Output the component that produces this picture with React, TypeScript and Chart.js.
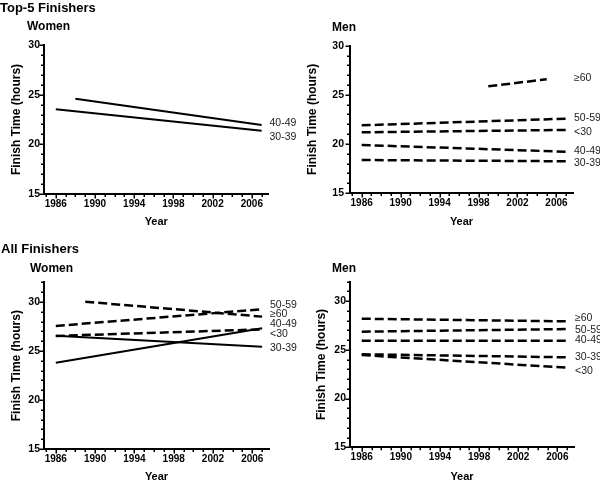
import React, { useEffect, useRef } from 'react';
import { Chart, registerables } from 'chart.js';

Chart.register(...registerables);

const FONT = '"Liberation Sans", Arial, Helvetica, sans-serif';

// Axis tick labels
const YEAR_LABELS = [1986, 1990, 1994, 1998, 2002, 2006];
const YEAR_FIRST_TICK = 1985;
const YEAR_LAST_TICK = 2007;
const TIME_LABELS = [15, 20, 25, 30];

// Top-5 finishers, women
const top5WomenGroups = ['30-39', '40-49'];
const top5WomenStartYear = [1986, 1988];
const top5WomenEndYear = [2007, 2007];
const top5WomenStartTime = [23.52, 24.59];
const top5WomenEndTime = [21.37, 21.94];
const top5WomenSolid = [true, true];
const top5WomenLabelTime = [20.77, 22.11];

// Top-5 finishers, men
const top5MenGroups = ['≥60', '50-59', '<30', '40-49', '30-39'];
const top5MenStartYear = [1999, 1986, 1986, 1986, 1986];
const top5MenEndYear = [2005, 2007, 2007, 2007, 2007];
const top5MenStartTime = [25.87, 21.89, 21.18, 19.89, 18.36];
const top5MenEndTime = [26.58, 22.57, 21.42, 19.2, 18.23];
const top5MenSolid = [false, false, false, false, false];
const top5MenLabelTime = [26.74, 22.67, 21.21, 19.31, 18.02];

// All finishers, women
const allWomenGroups = ['50-59', '≥60', '40-49', '<30', '30-39'];
const allWomenStartYear = [1986, 1989, 1986, 1986, 1986];
const allWomenEndYear = [2007, 2007, 2007, 2007, 2007];
const allWomenStartTime = [27.55, 30.02, 23.8, 26.53, 26.56];
const allWomenEndTime = [29.25, 28.5, 27.31, 27.2, 25.44];
const allWomenSolid = [false, false, true, false, true];
const allWomenLabelTime = [29.69, 28.77, 27.72, 26.7, 25.27];

// All finishers, men
const allMenGroups = ['≥60', '50-59', '40-49', '30-39', '<30'];
const allMenStartYear = [1986, 1986, 1986, 1986, 1986];
const allMenEndYear = [2007, 2007, 2007, 2007, 2007];
const allMenStartTime = [28.2, 26.87, 25.94, 24.55, 24.47];
const allMenEndTime = [27.93, 27.14, 25.94, 24.24, 23.17];
const allMenSolid = [false, false, false, false, false];
const allMenLabelTime = [28.24, 27.04, 26.01, 24.3, 22.86];

type Geom = {
  x: number; y: number; w: number; h: number;
  left: number; right: number; top: number; bottom: number;
  yTitlePad: number; xTitlePad: number; yTickPad: number;
};

type PanelProps = {
  geom: Geom;
  yMax: number;
  groups: string[];
  startYear: number[];
  endYear: number[];
  startTime: number[];
  endTime: number[];
  solid: boolean[];
  labelTime: number[];
};

function Panel(props: PanelProps) {
  const ref = useRef<HTMLCanvasElement>(null);
  useEffect(() => {
    const { geom, yMax, groups, startYear, endYear, startTime, endTime, solid, labelTime } = props;
    const xTicks: number[] = [];
    for (let v = YEAR_FIRST_TICK; v <= YEAR_LAST_TICK; v++) xTicks.push(v);
    const yTicks: number[] = [];
    for (let v = 15; v <= yMax; v++) yTicks.push(v);

    const decor = {
      id: 'decor',
      afterDraw(chart: any) {
        const ctx = chart.ctx as CanvasRenderingContext2D;
        const xs = chart.scales.x;
        const ys = chart.scales.y;
        const area = chart.chartArea;
        ctx.save();
        ctx.strokeStyle = '#000';
        ctx.lineWidth = 1.5;
        xs.ticks.forEach((t: any) => {
          const px = Math.round(xs.getPixelForValue(t.value)) + 0.25;
          const len = YEAR_LABELS.includes(t.value) ? 4.5 : 3;
          ctx.beginPath();
          ctx.moveTo(px, area.bottom);
          ctx.lineTo(px, area.bottom + len);
          ctx.stroke();
        });
        ys.ticks.forEach((t: any) => {
          const py = Math.round(ys.getPixelForValue(t.value)) + 0.25;
          const len = TIME_LABELS.includes(t.value) ? 4.5 : 3;
          ctx.beginPath();
          ctx.moveTo(area.left, py);
          ctx.lineTo(area.left - len, py);
          ctx.stroke();
        });
        ctx.fillStyle = '#222';
        ctx.font = `10.5px ${FONT}`;
        ctx.textAlign = 'left';
        ctx.textBaseline = 'middle';
        groups.forEach((g, i) => {
          ctx.fillText(g, area.right + 1, ys.getPixelForValue(labelTime[i]));
        });
        ctx.restore();
      },
    };

    const chart = new Chart(ref.current as HTMLCanvasElement, {
      type: 'line',
      data: {
        datasets: groups.map((g, i) => ({
          label: g,
          data: [
            { x: startYear[i], y: startTime[i] },
            { x: endYear[i], y: endTime[i] },
          ],
          borderColor: '#000',
          borderWidth: solid[i] ? 2 : 2.5,
          borderDash: solid[i] ? [] : [9, 4],
          borderCapStyle: 'butt',
          pointRadius: 0,
          fill: false,
          tension: 0,
        })),
      },
      options: {
        responsive: false,
        animation: false,
        layout: { padding: { left: 0, top: geom.top, right: geom.w - geom.right, bottom: 0 } },
        plugins: {
          legend: { display: false },
          tooltip: { enabled: false },
        },
        scales: {
          x: {
            type: 'linear',
            min: 1984.8,
            max: 2007.7,
            afterBuildTicks: (s: any) => {
              s.ticks = xTicks.map((v) => ({ value: v }));
            },
            afterFit: (s: any) => {
              s.height = geom.h - geom.bottom;
            },
            ticks: {
              autoSkip: false,
              maxRotation: 0,
              minRotation: 0,
              padding: 0,
              color: '#000',
              font: { family: FONT, size: 10, weight: 'bold' },
              callback: (v: any) => (YEAR_LABELS.includes(Number(v)) ? String(v) : ''),
            },
            grid: {
              display: true,
              drawOnChartArea: false,
              drawTicks: true,
              tickLength: 4,
              tickColor: 'rgba(0,0,0,0)',
            },
            border: { display: true, color: '#000', width: 2 },
            title: {
              display: true,
              text: 'Year',
              color: '#000',
              font: { family: FONT, size: 11, weight: 'bold' },
              padding: { top: 0, bottom: geom.xTitlePad },
            },
          },
          y: {
            type: 'linear',
            min: 15,
            max: yMax,
            afterBuildTicks: (s: any) => {
              s.ticks = yTicks.map((v) => ({ value: v }));
            },
            afterFit: (s: any) => {
              s.width = geom.left;
            },
            ticks: {
              autoSkip: false,
              padding: geom.yTickPad,
              color: '#000',
              font: { family: FONT, size: 10.5, weight: 'bold' },
              callback: (v: any) => (TIME_LABELS.includes(Number(v)) ? String(v) : ''),
            },
            grid: {
              display: true,
              drawOnChartArea: false,
              drawTicks: true,
              tickLength: 4,
              tickColor: 'rgba(0,0,0,0)',
            },
            border: { display: true, color: '#000', width: 2 },
            title: {
              display: true,
              text: 'Finish Time (hours)',
              color: '#000',
              font: { family: FONT, size: 12, weight: 'bold' },
              padding: { top: geom.yTitlePad, bottom: 0 },
            },
          },
        },
      } as any,
      plugins: [decor as any],
    });
    return () => chart.destroy();
  }, []);
  const g = props.geom;
  return (
    <canvas
      ref={ref}
      width={g.w}
      height={g.h}
      style={{ position: 'absolute', left: g.x, top: g.y, width: g.w, height: g.h }}
    />
  );
}

const heading: React.CSSProperties = {
  position: 'absolute',
  fontFamily: FONT,
  fontWeight: 'bold',
  color: '#000',
  whiteSpace: 'nowrap',
};

export default function App() {
  const g1: Geom = { x: 0, y: 0, w: 300, h: 240, left: 44, right: 268.5, top: 45, bottom: 194, yTitlePad: 9.5, xTitlePad: 11.7, yTickPad: 0 };
  const g2: Geom = { x: 300, y: 0, w: 300, h: 240, left: 50, right: 273, top: 45.7, bottom: 193, yTitlePad: 5.3, xTitlePad: 11.4, yTickPad: 2 };
  const g3: Geom = { x: 0, y: 240, w: 300, h: 250, left: 44, right: 269, top: 42.3, bottom: 209, yTitlePad: 9.5, xTitlePad: 6.9, yTickPad: 0 };
  const g4: Geom = { x: 300, y: 240, w: 300, h: 250, left: 50, right: 274, top: 41.7, bottom: 207.3, yTitlePad: 14.5, xTitlePad: 6.9, yTickPad: 0 };
  return (
    <div style={{ position: 'fixed', left: 0, top: 0, width: 600, height: 482, overflow: 'hidden', background: '#fff' }}>
      <Panel geom={g1} yMax={30} groups={top5WomenGroups} startYear={top5WomenStartYear} endYear={top5WomenEndYear}
        startTime={top5WomenStartTime} endTime={top5WomenEndTime} solid={top5WomenSolid} labelTime={top5WomenLabelTime} />
      <Panel geom={g2} yMax={30} groups={top5MenGroups} startYear={top5MenStartYear} endYear={top5MenEndYear}
        startTime={top5MenStartTime} endTime={top5MenEndTime} solid={top5MenSolid} labelTime={top5MenLabelTime} />
      <Panel geom={g3} yMax={32} groups={allWomenGroups} startYear={allWomenStartYear} endYear={allWomenEndYear}
        startTime={allWomenStartTime} endTime={allWomenEndTime} solid={allWomenSolid} labelTime={allWomenLabelTime} />
      <Panel geom={g4} yMax={32} groups={allMenGroups} startYear={allMenStartYear} endYear={allMenEndYear}
        startTime={allMenStartTime} endTime={allMenEndTime} solid={allMenSolid} labelTime={allMenLabelTime} />
      <div style={{ ...heading, left: 0, top: 0, fontSize: 13, lineHeight: '15px' }}>Top-5 Finishers</div>
      <div style={{ ...heading, left: 27, top: 19, fontSize: 12, lineHeight: '14px' }}>Women</div>
      <div style={{ ...heading, left: 332, top: 20, fontSize: 12, lineHeight: '14px' }}>Men</div>
      <div style={{ ...heading, left: 1, top: 241, fontSize: 13, lineHeight: '15px' }}>All Finishers</div>
      <div style={{ ...heading, left: 30, top: 261, fontSize: 12, lineHeight: '14px' }}>Women</div>
      <div style={{ ...heading, left: 332, top: 261, fontSize: 12, lineHeight: '14px' }}>Men</div>
    </div>
  );
}
